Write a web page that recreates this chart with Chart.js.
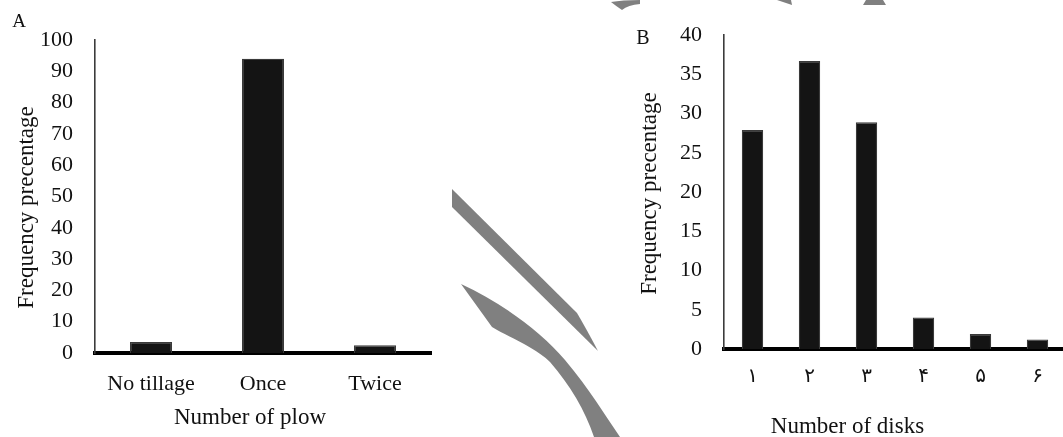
<!DOCTYPE html>
<html>
<head>
<meta charset="utf-8">
<script src="https://cdn.jsdelivr.net/npm/chart.js@4.4.1/dist/chart.umd.min.js"></script>
<style>
  html, body { margin: 0; padding: 0; background: #fff; }
  body { width: 1063px; height: 437px; overflow: hidden; position: relative; }
  canvas { position: absolute; top: 0; }
  #plowChart { left: 0; }
  #diskChart { left: 600px; }
  #swoosh { position: absolute; left: 0; top: 0; pointer-events: none; }
</style>
</head>
<body>
<canvas id="plowChart" width="440" height="437"></canvas>
<canvas id="diskChart" width="467" height="437"></canvas>
<svg id="swoosh" width="1063" height="437" viewBox="0 0 1063 437">
  <g fill="#808080">
    <path d="M452,189 L577,313 Q587,330 598,351 L452,207 Z"/>
    <path d="M461,284 C500,302 540,330 565,360 C590,390 605,415 620,437 L594,437 C585,410 570,385 550,362 C535,347 510,338 492,327 Z"/>
    <path d="M611,2 Q622,0 640,0 L640,4 Q628,5 622,10 Q616,6 611,2 Z"/>
    <path d="M777,0 L791,0 L792,5 Z"/>
    <path d="M863,5 L866,0 L883,0 L886,5 Z"/>
  </g>
</svg>
<script>
// Panel A: tillage passes
const plowLabels = ['No tillage', 'Once', 'Twice'];
const plowFreq = [3.5, 94, 2.5];
const plowTicks = [0, 10, 20, 30, 40, 50, 60, 70, 80, 90, 100];

// Panel B: disk passes (Persian numerals)
const diskLabels = ['۱', '۲', '۳', '۴', '۵', '۶'];
const diskFreq = [27.9, 36.7, 28.9, 4.0, 1.9, 1.2];
const diskTicks = [0, 5, 10, 15, 20, 25, 30, 35, 40];

const SERIF = '"Liberation Serif", "Times New Roman", serif';
const INK = '#111';

// Draws the panel letter and the axis titles around the plot area
const captionPlugin = {
  id: 'captions',
  afterDraw(chart, args, opts) {
    const { ctx, chartArea: a } = chart;
    const cx = (a.left + a.right) / 2;
    const cy = (a.top + a.bottom) / 2;
    ctx.save();
    ctx.fillStyle = INK;
    ctx.textAlign = 'center';
    ctx.textBaseline = 'middle';
    ctx.font = `${opts.letterSize}px ${SERIF}`;
    ctx.fillText(opts.letter, a.left + opts.letterDx, a.top + opts.letterDy);
    ctx.font = `${opts.titleSize}px ${SERIF}`;
    ctx.fillText(opts.xTitle, cx + opts.xDx, a.bottom + opts.xDy);
    ctx.translate(a.left + opts.yDx, cy + opts.yDy);
    ctx.rotate(-Math.PI / 2);
    ctx.fillText(opts.yTitle, 0, 0);
    ctx.restore();
  }
};

function makeChart(id, labels, values, ticks, cfg) {
  return new Chart(document.getElementById(id), {
    type: 'bar',
    data: {
      labels: labels,
      datasets: [{
        data: values,
        backgroundColor: '#141414',
        borderColor: '#3a3a3a',
        borderWidth: 1.2,
        barPercentage: 0.375,
        categoryPercentage: 1.0
      }]
    },
    options: {
      responsive: false,
      animation: false,
      layout: { padding: { top: cfg.top, right: cfg.right, bottom: 0, left: 0 } },
      plugins: {
        legend: { display: false },
        tooltip: { enabled: false },
        captions: cfg.captions
      },
      scales: {
        x: {
          z: 1,
          grid: { display: false, drawTicks: false },
          border: { display: true, color: '#000', width: 4 },
          ticks: {
            padding: cfg.xPad,
            color: INK,
            font: cfg.xFont
          },
          afterFit(scale) { scale.height = cfg.xHeight; }
        },
        y: {
          min: 0,
          max: ticks[ticks.length - 1],
          afterBuildTicks(scale) { scale.ticks = ticks.map(v => ({ value: v })); },
          grid: { display: false, drawTicks: false },
          border: { display: true, color: '#3c3c3c', width: 1.6 },
          ticks: {
            padding: 22,
            color: INK,
            font: { family: SERIF, size: 22 }
          },
          afterFit(scale) { scale.width = cfg.yWidth; }
        }
      }
    },
    plugins: [captionPlugin]
  });
}

makeChart('plowChart', plowLabels, plowFreq, plowTicks, {
  top: 40, right: 9, yWidth: 95, xHeight: 84, xPad: 18,
  xFont: { family: SERIF, size: 22 },
  captions: {
    letter: 'A', letterSize: 19, letterDx: -76, letterDy: -18,
    titleSize: 23,
    xTitle: 'Number of plow', xDx: -13, xDy: 65,
    yTitle: 'Frequency precentage', yDx: -68, yDy: 11
  }
});

makeChart('diskChart', diskLabels, diskFreq, diskTicks, {
  top: 34, right: 1, yWidth: 124, xHeight: 88, xPad: 16,
  xFont: { family: '"DejaVu Sans", sans-serif', size: 20 },
  captions: {
    letter: 'B', letterSize: 20, letterDx: -81, letterDy: 4,
    titleSize: 23,
    xTitle: 'Number of disks', xDx: -47.5, xDy: 78,
    yTitle: 'Frequency precentage', yDx: -74, yDy: 1.5
  }
});
</script>
</body>
</html>
